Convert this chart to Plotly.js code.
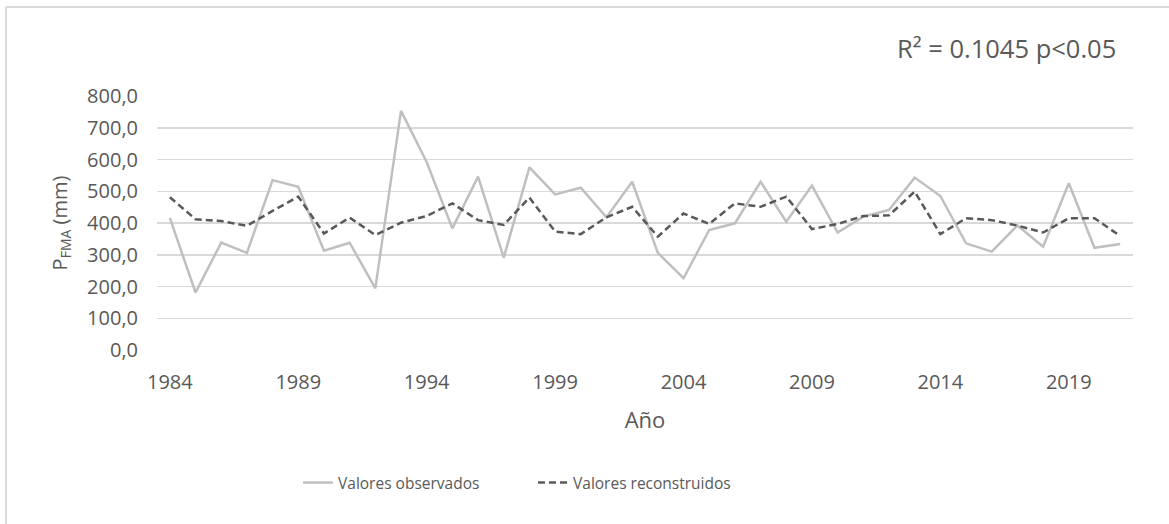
<!DOCTYPE html>
<html>
<head>
<meta charset="utf-8">
<script src="https://cdn.plot.ly/plotly-3.0.1.min.js"></script>
<style>html,body{margin:0;padding:0;background:#fff;}#chart{width:1169px;height:524px;}</style>
</head>
<body>
<div id="chart"></div>
<script>
const years = [1984,1985,1986,1987,1988,1989,1990,1991,1992,1993,1994,1995,1996,1997,1998,1999,2000,2001,2002,2003,2004,2005,2006,2007,2008,2009,2010,2011,2012,2013,2014,2015,2016,2017,2018,2019,2020,2021];
const observados = [416,181,338,306,535,514,313,338,194,753,592,383,546,291,575,490,511,418,530,306,226,378,399,530,404,518,370,420,441,543,485,336,310,392,325,525,322,334];
const reconstruidos = [481,412,406,391,438,483,367,417,362,401,422,462,409,394,480,373,365,418,451,357,430,397,462,451,483,381,397,422,424,499,365,415,409,392,370,415,415,359];
const xTickVals = [1984,1989,1994,1999,2004,2009,2014,2019];
const yTickVals = [0,100,200,300,400,500,600,700,800];
const seriesNames = ['Valores observados','Valores reconstruidos'];
const annotationText = 'R² = 0.1045 p&lt;0.05';

const FONT = 'Open Sans, Noto Sans, sans-serif';
const TXT = '#595959';

const traces = [
  {x: years, y: observados, type: 'scatter', mode: 'lines', name: seriesNames[0],
   line: {color: '#bfbfbf', width: 2.5}},
  {x: years, y: reconstruidos, type: 'scatter', mode: 'lines', name: seriesNames[1],
   line: {color: '#595959', width: 2.5, dash: '7px,4px'}}
];

const layout = {
  width: 1169, height: 524,
  margin: {l: 157, r: 36, t: 96, b: 174},
  paper_bgcolor: '#ffffff', plot_bgcolor: '#ffffff',
  separators: ',.',
  font: {family: FONT, color: TXT, size: 18},
  showlegend: true,
  legend: {orientation: 'h', x: 0.1445, xanchor: 'left', y: -0.5236, yanchor: 'middle',
           font: {family: FONT, size: 15.5, color: TXT}, entrywidth: 190, entrywidthmode: 'pixels',
           bgcolor: 'rgba(0,0,0,0)'},
  xaxis: {
    range: [1983.5, 2021.5], tickmode: 'array', tickvals: xTickVals,
    showgrid: false, zeroline: false, showline: false,
    ticks: 'outside', ticklen: 14, tickcolor: 'rgba(0,0,0,0)',
    tickfont: {family: FONT, size: 20, color: TXT},
    title: {text: 'Año', font: {family: FONT, size: 22, color: TXT}, standoff: 18}
  },
  yaxis: {
    range: [0, 800], tickmode: 'array', tickvals: yTickVals, tickformat: '.1f',
    showgrid: true, gridcolor: '#d9d9d9', gridwidth: 1.5, zeroline: false, showline: false,
    ticks: 'outside', ticklen: 14, tickcolor: 'rgba(0,0,0,0)',
    tickfont: {family: FONT, size: 20, color: TXT},
    title: {text: 'P<sub>FMA</sub> (mm)', font: {family: FONT, size: 20, color: TXT}, standoff: 14}
  },
  annotations: [{
    text: annotationText, xref: 'paper', yref: 'paper', x: 0.756, y: 1.189,
    xanchor: 'left', yanchor: 'middle', showarrow: false,
    font: {family: FONT, size: 25.5, color: TXT}
  }],
  shapes: [
    {type: 'line', xref: 'paper', yref: 'paper', x0: -0.1547, x1: 1.1, y0: 1.350, y1: 1.350,
     line: {color: '#d9d9d9', width: 2}},
    {type: 'line', xref: 'paper', yref: 'paper', x0: -0.1547, x1: -0.1547, y0: -0.8, y1: 1.350,
     line: {color: '#d9d9d9', width: 2}}
  ]
};

Plotly.newPlot('chart', traces, layout, {displayModeBar: false, staticPlot: true});
</script>
</body>
</html>
